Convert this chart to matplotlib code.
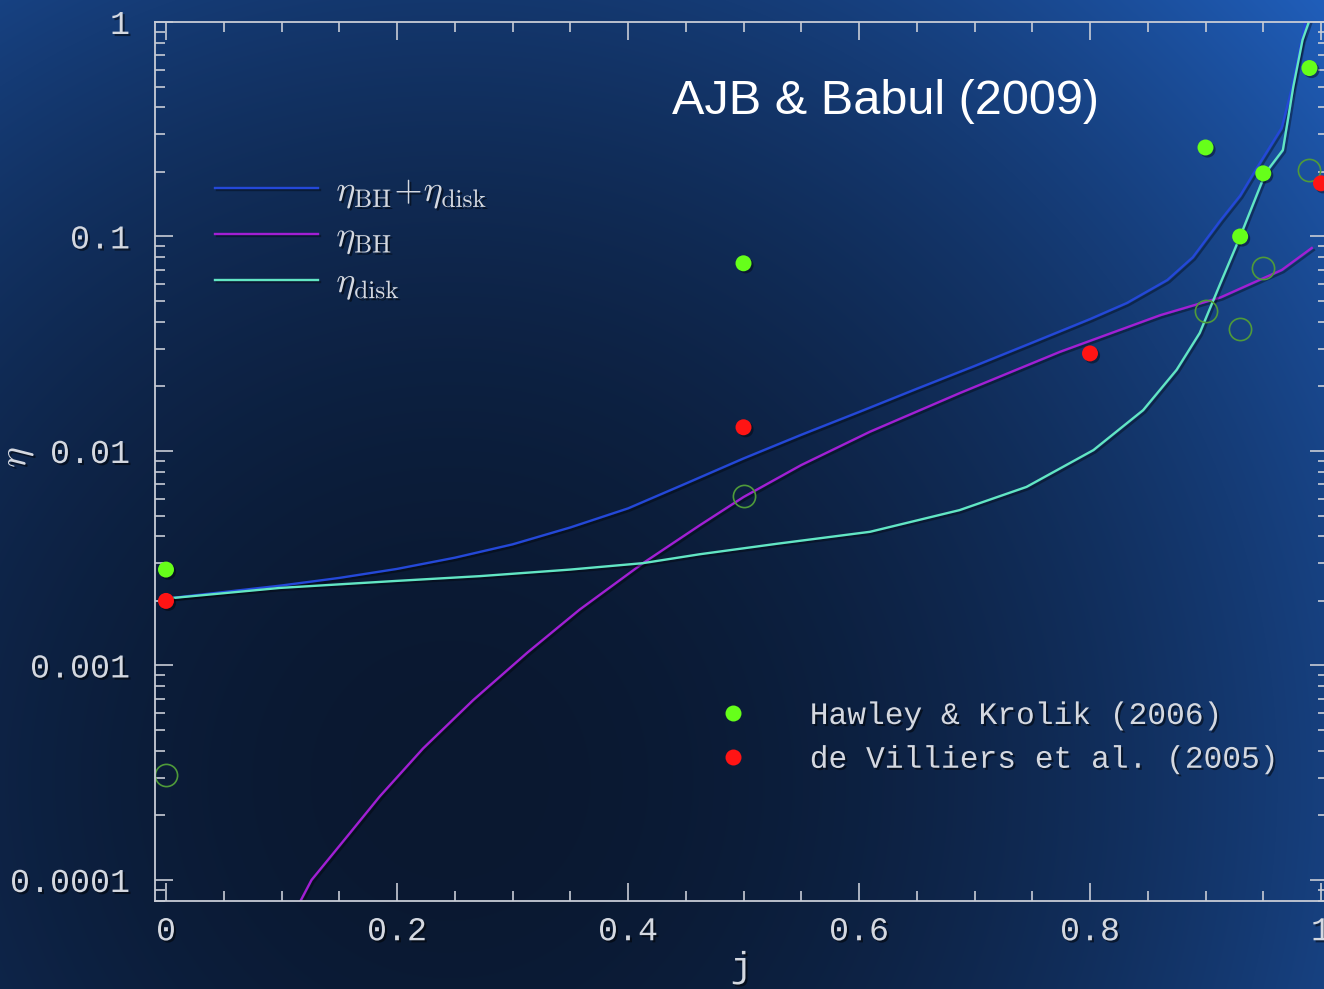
import numpy as np
import matplotlib
matplotlib.use("Agg")
import matplotlib.pyplot as plt
from matplotlib import ticker
from matplotlib import patheffects as pe
from matplotlib.lines import Line2D

plt.rcParams['mathtext.fontset'] = 'cm'

# eta_BH + eta_disk (total)
j_tot = [0.0, 0.05, 0.1, 0.15, 0.2, 0.25, 0.3, 0.35, 0.4, 0.45, 0.5, 0.55,
         0.6, 0.65, 0.7, 0.75, 0.8, 0.832, 0.867, 0.889, 0.913, 0.93, 0.945,
         0.966, 0.975, 0.982, 0.987]
eta_tot = [0.00205, 0.0022, 0.00236, 0.00256, 0.00282, 0.00318, 0.00367,
           0.0044, 0.0054, 0.00705, 0.00923, 0.0119, 0.0152, 0.0195, 0.0249,
           0.032, 0.0412, 0.049, 0.0627, 0.080, 0.119, 0.155, 0.211, 0.321,
           0.498, 0.764, 1.02]

# eta_BH
j_bh = [0.116, 0.126, 0.157, 0.185, 0.2225, 0.266, 0.313, 0.358, 0.413,
        0.462, 0.5, 0.55, 0.6095, 0.687, 0.774, 0.861, 0.913, 0.966, 0.992]
eta_bh = [7.9e-5, 1.0e-4, 1.6e-4, 2.45e-4, 4.1e-4, 6.9e-4, 1.15e-3, 1.82e-3,
          3.0e-3, 4.5e-3, 6.1e-3, 8.6e-3, 0.0123, 0.0186, 0.029, 0.043, 0.052,
          0.0698, 0.0884]

# eta_disk
j_disk = [0.0, 0.099, 0.2, 0.272, 0.35, 0.413, 0.462, 0.53, 0.6095, 0.687,
          0.745, 0.803, 0.846, 0.875, 0.895, 0.913, 0.930, 0.952, 0.967, 0.976,
          0.984, 0.990]
eta_disk = [0.00205, 0.0023, 0.00248, 0.00261, 0.0028, 0.0030, 0.0033, 0.0037,
            0.0042, 0.0053, 0.0068, 0.0101, 0.0155, 0.0239, 0.0355, 0.0607,
            0.100, 0.198, 0.253, 0.498, 0.824, 1.02]

# simulation points
hk_j = [0.0, 0.5, 0.9, 0.93, 0.95, 0.99]
hk_eta = [0.0028, 0.075, 0.26, 0.10, 0.197, 0.61]
dv_j = [0.0, 0.5, 0.8, 1.0]
dv_eta = [0.002, 0.0129, 0.0285, 0.177]
ring_j = [0.0, 0.5, 0.9, 0.93, 0.95, 0.99]
ring_eta = [3.1e-4, 0.0062, 0.045, 0.037, 0.071, 0.205]

ytick_vals = [1e-4, 1e-3, 1e-2, 1e-1, 1]
ytick_labels = ["0.0001", "0.001", "0.01", "0.1", "1"]
xtick_vals = [0, 0.2, 0.4, 0.6, 0.8, 1.0]
xtick_labels = ["0", "0.2", "0.4", "0.6", "0.8", "1"]

W, H = 1324, 989
fig = plt.figure(figsize=(W / 100, H / 100), dpi=100)

# background radial gradient (dark lower-left-centre, bright top-right)
yy, xx = np.mgrid[0:H, 0:W]
d = np.sqrt((xx - 450.0) ** 2 + (yy - 780.0) ** 2) / 1170.0
t = np.clip(d, 0, 1.1) ** 2.0
dark = np.array([10, 24, 48]) / 255.0
bright = np.array([32, 94, 186]) / 255.0
img = dark[None, None, :] + t[..., None] * (bright - dark)[None, None, :]
bg = fig.add_axes([0, 0, 1, 1])
bg.imshow(np.clip(img, 0, 1), aspect='auto', extent=[0, 1, 0, 1])
bg.axis('off')

left, right, top, bottom = 155, 1328, 22, 901
ax = fig.add_axes([left / W, 1 - bottom / H, (right - left) / W, (bottom - top) / H])
ax.set_facecolor('none')
ax.set_yscale('log')
ax.set_xlim((left - 166) / 1155, (right - 166) / 1155)
ax.set_ylim(7.98e-5, 1)

shadow = [pe.SimpleLineShadow(offset=(1.5, -1.5), shadow_color='k', alpha=0.35), pe.Normal()]
c_tot, c_bh, c_disk = '#2448d8', '#a21fd4', '#62e6c4'
ax.plot(j_tot, eta_tot, color=c_tot, lw=1.7, path_effects=shadow, label=r'$\eta_{\rm BH}\!+\!\eta_{\rm disk}$')
ax.plot(j_bh, eta_bh, color=c_bh, lw=1.7, path_effects=shadow, label=r'$\eta_{\rm BH}$')
ax.plot(j_disk, eta_disk, color=c_disk, lw=1.7, path_effects=shadow, label=r'$\eta_{\rm disk}$')

ax.plot(ring_j, ring_eta, 'o', ms=16, mfc='none', mec='#4f9a3a', mew=1.2, clip_on=False)
pshadow = [pe.SimplePatchShadow(offset=(1.5, -1.5), shadow_rgbFace='k', alpha=0.4), pe.Normal()]
ax.plot(hk_j, hk_eta, 'o', ms=11.5, color='#66ff1a', mec='none', clip_on=False, path_effects=pshadow)
ax.plot(dv_j, dv_eta, 'o', ms=11.5, color='#ff1414', mec='none', clip_on=False, path_effects=pshadow)

# axes styling
gray = '#c8ccd6'
for s in ax.spines.values():
    s.set_color(gray)
    s.set_linewidth(1.3)
ax.set_yticks(ytick_vals)
ax.set_yticklabels(ytick_labels)
ax.set_xticks(xtick_vals)
ax.set_xticklabels(xtick_labels)
ax.xaxis.set_minor_locator(ticker.MultipleLocator(0.05))
ax.yaxis.set_minor_locator(ticker.LogLocator(base=10, subs=np.arange(2, 10)))
ax.yaxis.set_minor_formatter(ticker.NullFormatter())
ax.tick_params(which='both', direction='in', top=True, right=True, color=gray, width=1.2,
               labelcolor='#d4d8e0')
ax.tick_params(which='major', length=13)
ax.tick_params(which='minor', length=7)
ax.tick_params(axis='x', pad=11, labelsize=24)
ax.tick_params(axis='y', pad=18, labelsize=24)
txt_shadow = [pe.withSimplePatchShadow(offset=(1.5, -1.5), shadow_rgbFace='k', alpha=0.5)]
for lab in ax.get_xticklabels() + ax.get_yticklabels():
    lab.set_fontfamily('Liberation Mono')
    lab.set_path_effects(txt_shadow)

ax.set_xlabel('j', fontsize=26, color='#d4d8e0', family='Liberation Mono', labelpad=2,
              path_effects=txt_shadow)
ax.set_ylabel(r'$\eta$', fontsize=28, color='#d4d8e0', path_effects=txt_shadow)
ax.yaxis.set_label_coords((36 - left) / (right - left), 0.505)

# legend for the curves
leg1 = ax.legend(loc='upper left', bbox_to_anchor=((215 - left) / (right - left), 1 - (174 - top) / (bottom - top)),
                 frameon=False, fontsize=26, handlelength=2.86, handletextpad=0.5,
                 labelspacing=0.24, borderpad=0, borderaxespad=0, labelcolor='#d4d8e0')
for tx in leg1.get_texts():
    tx.set_path_effects(txt_shadow)
ax.add_artist(leg1)

# legend for the simulation points
pt_handles = [Line2D([], [], ls='none', marker='o', ms=11.5, color='#66ff1a', mec='none'),
              Line2D([], [], ls='none', marker='o', ms=11.5, color='#ff1414', mec='none')]
leg2 = ax.legend(pt_handles, ['Hawley & Krolik (2006)', 'de Villiers et al. (2005)'],
                 loc='upper left', bbox_to_anchor=((716 - left) / (right - left), 1 - (701 - top) / (bottom - top)),
                 frameon=False, handlelength=1.1, handletextpad=1.9, labelspacing=0.44,
                 borderpad=0, borderaxespad=0, prop={'family': 'Liberation Mono', 'size': 22.5},
                 labelcolor='#d4d8e0')
for tx in leg2.get_texts():
    tx.set_path_effects(txt_shadow)

fig.text(886 / W, 1 - 101 / H, 'AJB & Babul (2009)', ha='center', va='center', color='white',
         fontsize=35, family='Liberation Sans')

fig.savefig('out.png', dpi=100)
